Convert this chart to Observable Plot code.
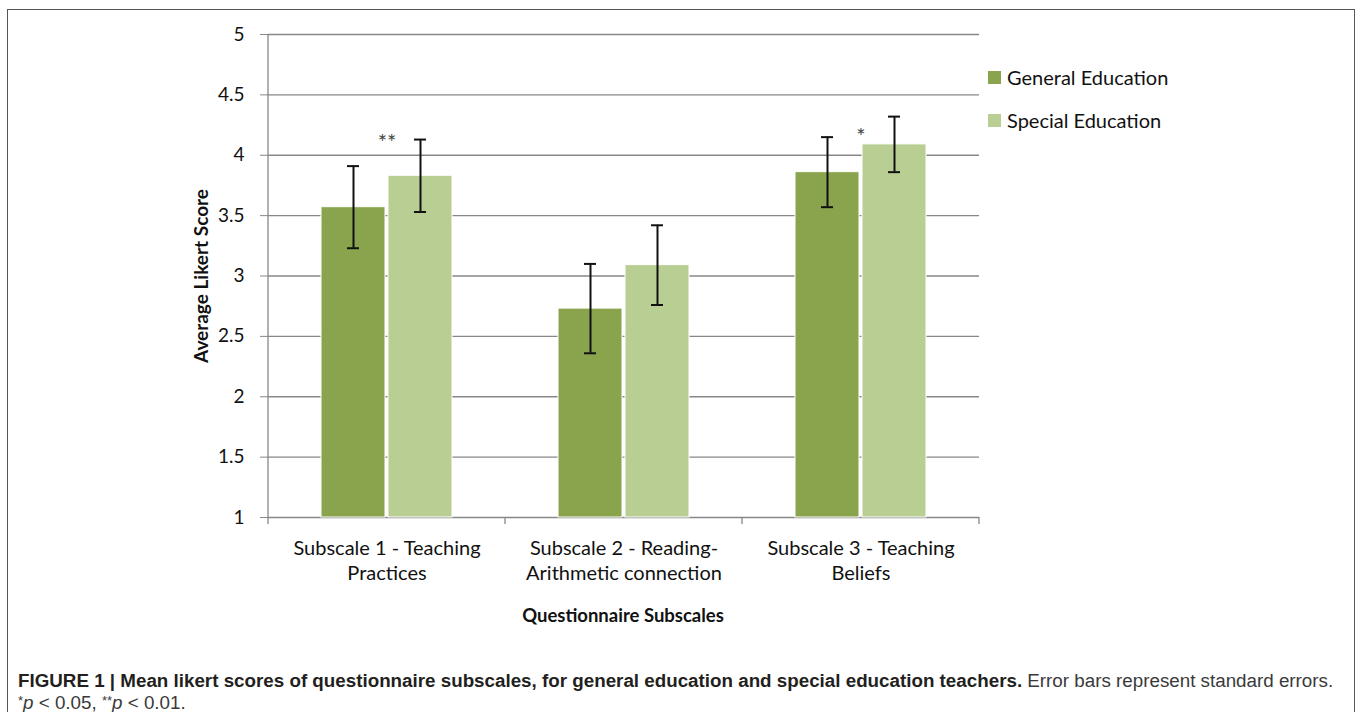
<!DOCTYPE html>
<html><head><meta charset="utf-8">
<script src="https://cdn.jsdelivr.net/npm/d3@7"></script>
<script src="https://cdn.jsdelivr.net/npm/@observablehq/plot@0.6"></script>
<style>
body{margin:0;background:#fff;}
#wrap{position:relative;width:1357px;height:712px;overflow:hidden;font-family:Lato,"Open Sans",sans-serif;color:#111;}
#frame{position:absolute;left:7px;top:9px;width:1348px;height:760px;border:1.5px solid #555;box-sizing:border-box;}
#chart{position:absolute;left:0;top:0;}
#ytitle{position:absolute;left:200px;top:276px;transform:translate(-50%,-50%) rotate(-90deg);font-weight:bold;font-size:19px;white-space:nowrap;}
#xtitle{position:absolute;left:623px;top:615px;transform:translate(-50%,-50%);font-weight:bold;font-size:18.5px;white-space:nowrap;}
#legend{position:absolute;left:988px;top:66px;font-size:20px;}
#legend .item{display:flex;align-items:center;height:22px;margin-bottom:21px;}
#legend .sw{width:13px;height:13px;margin-right:6px;}
#caption{position:absolute;left:18px;top:670px;font-family:"Liberation Sans",Arial,sans-serif;font-size:18.8px;line-height:22px;color:#231f20;white-space:nowrap;}
#caption .reg{color:#3a3a3a;}
#caption .ast{font-size:13px;position:relative;top:-4px;}
</style>
</head><body>
<div id="wrap">
  <div id="frame"></div>
  <div id="chart"></div>
  <div id="ytitle">Average Likert Score</div>
  <div id="xtitle">Questionnaire Subscales</div>
  <div id="legend"></div>
  <div id="caption"><b>FIGURE 1 | Mean likert scores of questionnaire subscales, for general education and special education teachers.</b><span class="reg"> Error bars represent standard errors.</span><br><span class="reg"><span class="ast">*</span><i>p</i> &lt; 0.05, <span class="ast">**</span><i>p</i> &lt; 0.01.</span></div>
</div>
<script>
const categories = ["Subscale 1 - Teaching Practices", "Subscale 2 - Reading-Arithmetic connection", "Subscale 3 - Teaching Beliefs"];
const categoryLabels = ["Subscale 1 - Teaching\nPractices", "Subscale 2 - Reading-\nArithmetic connection", "Subscale 3 - Teaching\nBeliefs"];
const groups = ["General Education", "Special Education"];
const generalMeans = [3.57, 2.73, 3.86];
const generalErrors = [0.34, 0.37, 0.29];
const specialMeans = [3.83, 3.09, 4.09];
const specialErrors = [0.30, 0.33, 0.23];
const significance = ["**", "", "*"];
const significanceLevel = [4.15, null, 4.2];
const yTicks = [1, 1.5, 2, 2.5, 3, 3.5, 4, 4.5, 5];
const groupColors = ["#89a44d", "#b9ce93"];

const data = [];
categories.forEach((c, i) => {
  data.push({category: c, group: groups[0], mean: generalMeans[i], se: generalErrors[i]});
  data.push({category: c, group: groups[1], mean: specialMeans[i], se: specialErrors[i]});
});
const annotations = categories.map((c, i) => ({category: c, label: significance[i], y: significanceLevel[i]})).filter(d => d.label);
const labelData = categories.map((c, i) => ({category: c, label: categoryLabels[i]}));

const font = 'Lato, "Open Sans", sans-serif';
const chart = Plot.plot({
  width: 1357,
  height: 660,
  marginLeft: 268,
  marginRight: 378,
  marginTop: 34,
  marginBottom: 143,
  style: {fontFamily: font, background: "transparent", overflow: "visible"},
  fx: {domain: categories, padding: 0, axis: null},
  x: {domain: groups, paddingInner: 0.044, paddingOuter: 0.765, axis: null},
  y: {domain: [1, 5], axis: null},
  color: {domain: groups, range: groupColors},
  marks: [
    Plot.gridY(yTicks.slice(1), {stroke: "#878787", strokeOpacity: 1, strokeWidth: 1.3}),
    Plot.ruleY([1], {stroke: "#878787", strokeWidth: 1.3}),
    Plot.barY(data, {fx: "category", x: "group", y1: 1, y2: "mean", fill: "group", stroke: "#fff", strokeWidth: 1}),
    Plot.ruleX(data, {fx: "category", x: "group", y1: d => d.mean - d.se, y2: d => d.mean + d.se, stroke: "#111", strokeWidth: 2}),
    Plot.tickY(data, {fx: "category", x: "group", y: d => d.mean - d.se, insetLeft: 26, insetRight: 26, stroke: "#111", strokeWidth: 2}),
    Plot.tickY(data, {fx: "category", x: "group", y: d => d.mean + d.se, insetLeft: 26, insetRight: 26, stroke: "#111", strokeWidth: 2}),
    Plot.text(annotations, {fx: "category", y: "y", text: "label", fontSize: 22, fill: "#444", dy: 6}),
    Plot.text(labelData, {fx: "category", text: "label", frameAnchor: "bottom", lineAnchor: "top", dy: 20, fontSize: 20, lineHeight: 1.25, fill: "#111"}),
    Plot.axisY(yTicks, {tickSize: 8, tickPadding: 16, fontSize: 19, stroke: "#878787", fill: "#111", label: null, tickFormat: d => String(d)})
  ]
});
document.getElementById("chart").appendChild(chart);

// axis lines using the plot's own scales
const fx = chart.scale("fx");
const ys = chart.scale("y");
const svg = d3.select(chart);
const left = fx.apply(categories[0]);
const bw = fx.bandwidth;
const yTop = ys.apply(5), yBot = ys.apply(1);
svg.append("line").attr("x1", left).attr("x2", left).attr("y1", yTop).attr("y2", yBot + 7).attr("stroke", "#878787").attr("stroke-width", 1.3);
categories.forEach((c, i) => {
  const x0 = fx.apply(c) + bw;
  svg.append("line").attr("x1", x0).attr("x2", x0).attr("y1", yBot).attr("y2", yBot + 7).attr("stroke", "#878787").attr("stroke-width", 1.3);
});

const legend = d3.select("#legend");
groups.forEach((g, i) => {
  const it = legend.append("div").attr("class", "item");
  it.append("div").attr("class", "sw").style("background", groupColors[i]);
  it.append("span").text(g);
});
</script>
</body></html>
